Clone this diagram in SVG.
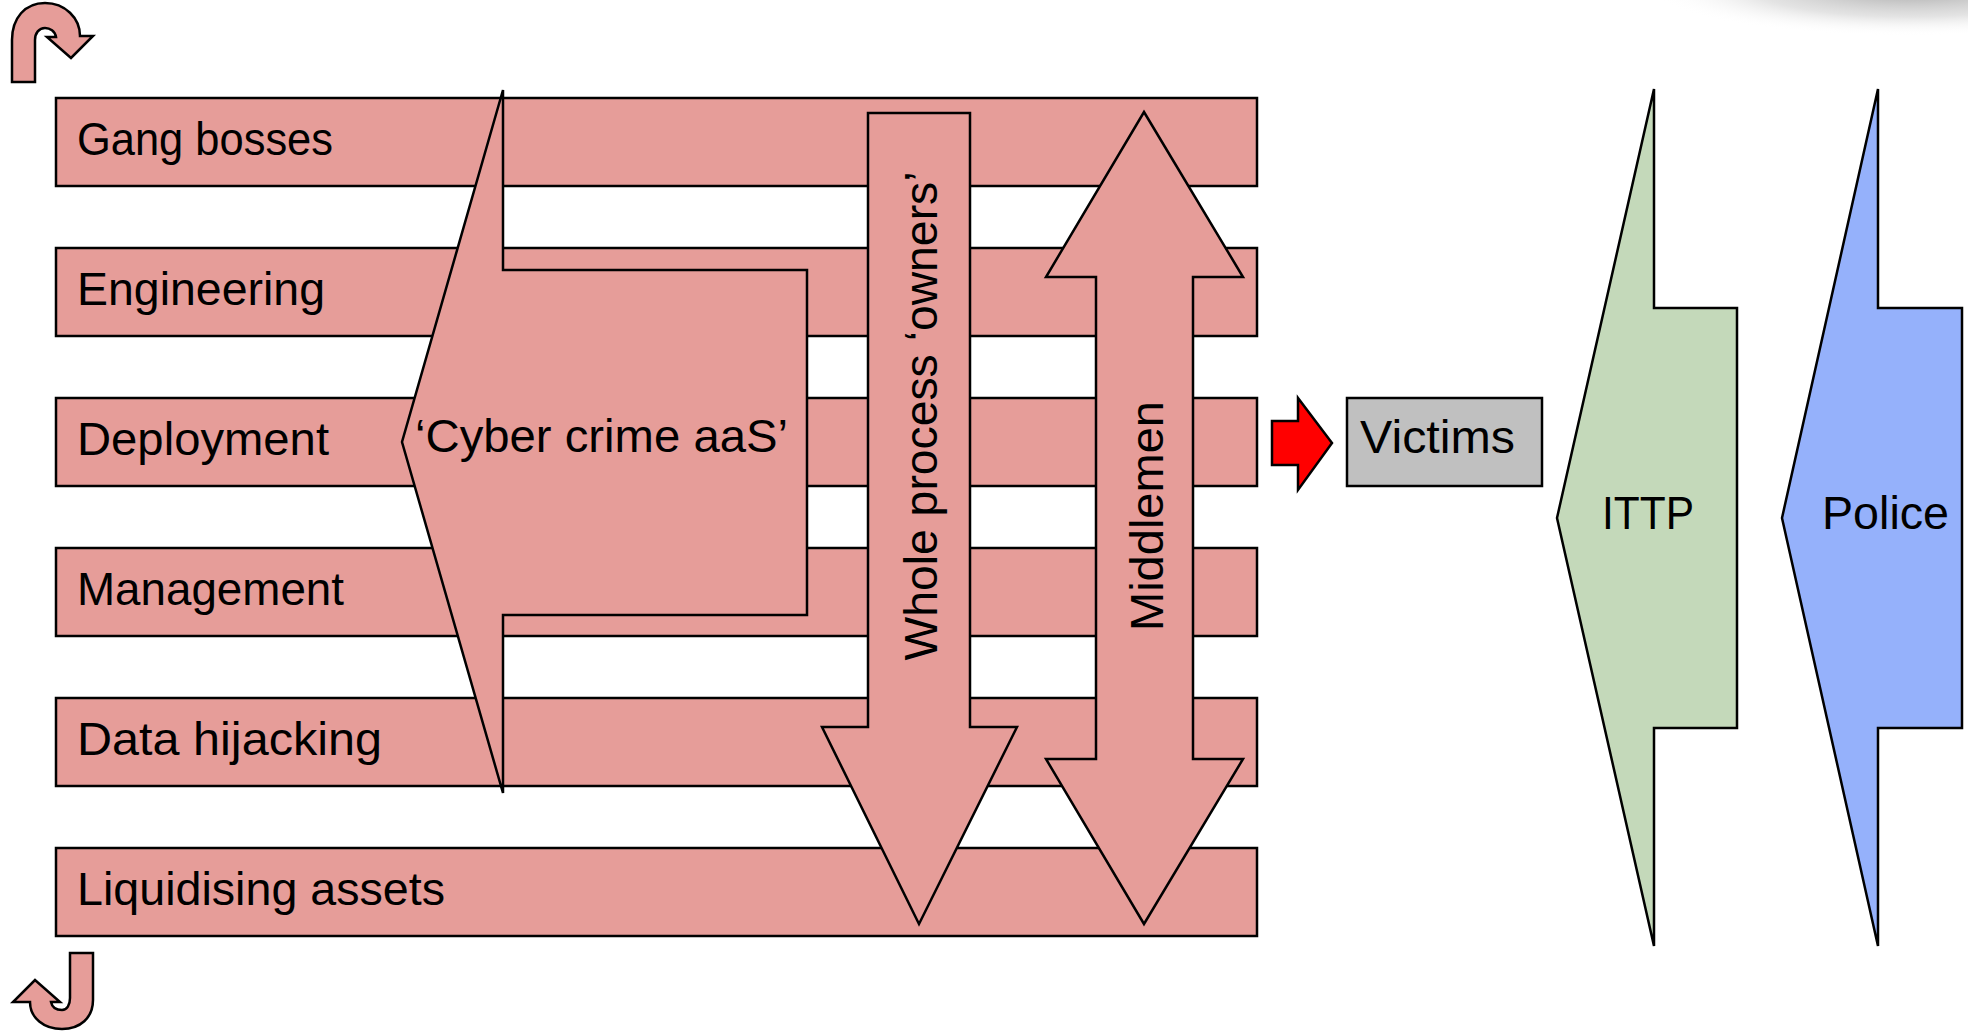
<svg xmlns="http://www.w3.org/2000/svg" width="1968" height="1032" viewBox="0 0 1968 1032">
<defs>
<radialGradient id="shadow" cx="0.5" cy="0.5" r="0.5">
<stop offset="0" stop-color="#9a9a9a" stop-opacity="0.9"/>
<stop offset="0.6" stop-color="#c8c8c8" stop-opacity="0.5"/>
<stop offset="1" stop-color="#ffffff" stop-opacity="0"/>
</radialGradient>
</defs>
<style>
.bar{fill:#E69D99;stroke:#000;stroke-width:2.5}
.pk{fill:#E69D99;stroke:#000;stroke-width:2.5;stroke-linejoin:miter}
.lbl{font-family:"Liberation Sans",Arial,sans-serif;font-size:46px;fill:#000}
</style>
<rect x="0" y="0" width="1968" height="1032" fill="#fff"/>
<ellipse cx="1910" cy="-12" rx="260" ry="48" fill="url(#shadow)"/>

<g id="corner-top">
<path class="pk" d="M12 82 L12 40 C12 18 25 3 45 3 C65 3 80 18 80 36 L93 36 L71 58 L47 37 L56 37 C55 31 50 28 45 28 C39 28 35 33 35 40 L35 82 Z"/>
</g>
<g id="corner-bottom">
<path class="pk" d="M93 953 L93 1000 C93 1018 80 1029 62 1029 C44 1029 30 1018 30 1002 L13 1002 L35 980 L60 1002 L51 1002 C52 1007 56 1010 62 1010 C67 1010 70 1005 70 998 L70 953 Z"/>
</g>

<g id="bar-gang"><rect class="bar" x="56" y="98" width="1201" height="88"/><text class="lbl" x="77" y="155" textLength="256" lengthAdjust="spacingAndGlyphs">Gang bosses</text></g>
<g id="bar-eng"><rect class="bar" x="56" y="248" width="1201" height="88"/><text class="lbl" x="77" y="305" textLength="248" lengthAdjust="spacingAndGlyphs">Engineering</text></g>
<g id="bar-dep"><rect class="bar" x="56" y="398" width="1201" height="88"/><text class="lbl" x="77" y="455" textLength="252" lengthAdjust="spacingAndGlyphs">Deployment</text></g>
<g id="bar-man"><rect class="bar" x="56" y="548" width="1201" height="88"/><text class="lbl" x="77" y="605" textLength="267" lengthAdjust="spacingAndGlyphs">Management</text></g>
<g id="bar-data"><rect class="bar" x="56" y="698" width="1201" height="88"/><text class="lbl" x="77" y="755" textLength="305" lengthAdjust="spacingAndGlyphs">Data hijacking</text></g>
<g id="bar-liq"><rect class="bar" x="56" y="848" width="1201" height="88"/><text class="lbl" x="77" y="905" textLength="368" lengthAdjust="spacingAndGlyphs">Liquidising assets</text></g>

<g id="cyber">
<polygon class="pk" points="503,90 503,270 807,270 807,615 503,615 503,793 402,442"/>
<text class="lbl" x="415" y="452" textLength="373" lengthAdjust="spacingAndGlyphs">‘Cyber crime aaS’</text>
</g>

<g id="owners">
<polygon class="pk" points="868,113 970,113 970,727 1017,727 919,924 822,727 868,727"/>
<text class="lbl" transform="translate(937,416) rotate(-90)" x="0" y="0" text-anchor="middle" textLength="489" lengthAdjust="spacingAndGlyphs">Whole process ‘owners’</text>
</g>

<g id="middlemen">
<polygon class="pk" points="1144,112 1243,277 1193,277 1193,759 1243,759 1144,924 1046,759 1096,759 1096,277 1046,277"/>
<text class="lbl" transform="translate(1163,516) rotate(-90)" x="0" y="0" text-anchor="middle" textLength="230" lengthAdjust="spacingAndGlyphs">Middlemen</text>
</g>

<g id="connectors">
<polygon points="1272,421 1298,421 1298,398 1332,443 1298,490 1298,465 1272,465" fill="#FF0000" stroke="#000" stroke-width="2.5"/>
</g>

<g id="victims">
<rect x="1347" y="398" width="195" height="88" fill="#C0C0C0" stroke="#000" stroke-width="2.5"/>
<text class="lbl" x="1360" y="453" textLength="155" lengthAdjust="spacingAndGlyphs">Victims</text>
</g>

<g id="ittp">
<polygon points="1654,89 1654,308 1737,308 1737,728 1654,728 1654,946 1557,518" fill="#C4D9BA" stroke="#000" stroke-width="2.5"/>
<text class="lbl" x="1602" y="529" textLength="92" lengthAdjust="spacingAndGlyphs">ITTP</text>
</g>

<g id="police">
<polygon points="1878,89 1878,308 1962,308 1962,728 1878,728 1878,946 1782,518" fill="#95B1FB" stroke="#000" stroke-width="2.5"/>
<text class="lbl" x="1822" y="529" textLength="127" lengthAdjust="spacingAndGlyphs">Police</text>
</g>
</svg>
